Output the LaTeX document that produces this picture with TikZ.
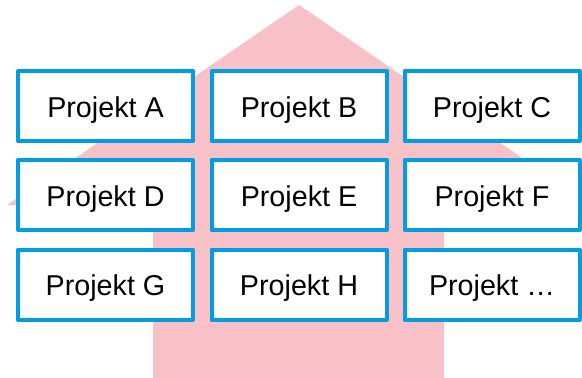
\documentclass[tikz,border=0pt]{standalone}
\usepackage{fontspec}
\setmainfont{Liberation Sans}
\definecolor{haus}{RGB}{247,193,199}
\definecolor{rahmen}{RGB}{0,158,224}
\begin{document}
\begin{tikzpicture}[x=1pt,y=-1pt, line join=round,
	projekt/.style={draw=rahmen, line width=4pt, fill=white, minimum width=175pt, minimum height=70pt, inner sep=0pt, text height=22pt, text depth=0pt, font=\fontsize{28.7}{32}\selectfont}]
			\useasboundingbox (0,0) rectangle (582,378);
			\clip (0,0) rectangle (582,378);
			\path
			(299,5)coordinate(S)
			(7,205)coordinate(L)
			(591,205)coordinate(R)
			(153,205)coordinate(LS)
			(444,205)coordinate(RS)
			(153,378)coordinate(LU)
			(444,378)coordinate(RU)
			;
			\fill[haus] (S)--(R)--(RS)--(RU)--(LU)--(LS)--(L)--cycle;
			\foreach \n/\t/\x/\y in {A/A/105.5/106,B/B/299/106,C/C/492/106,D/D/105.5/195,E/E/299/195,F/F/492/195,G/G/105.5/284.5,H/H/299/284.5,I/…/492/284.5}
			\node[projekt] (\n) at (\x,\y) {Projekt \t};
			\end{tikzpicture}
\end{document}
